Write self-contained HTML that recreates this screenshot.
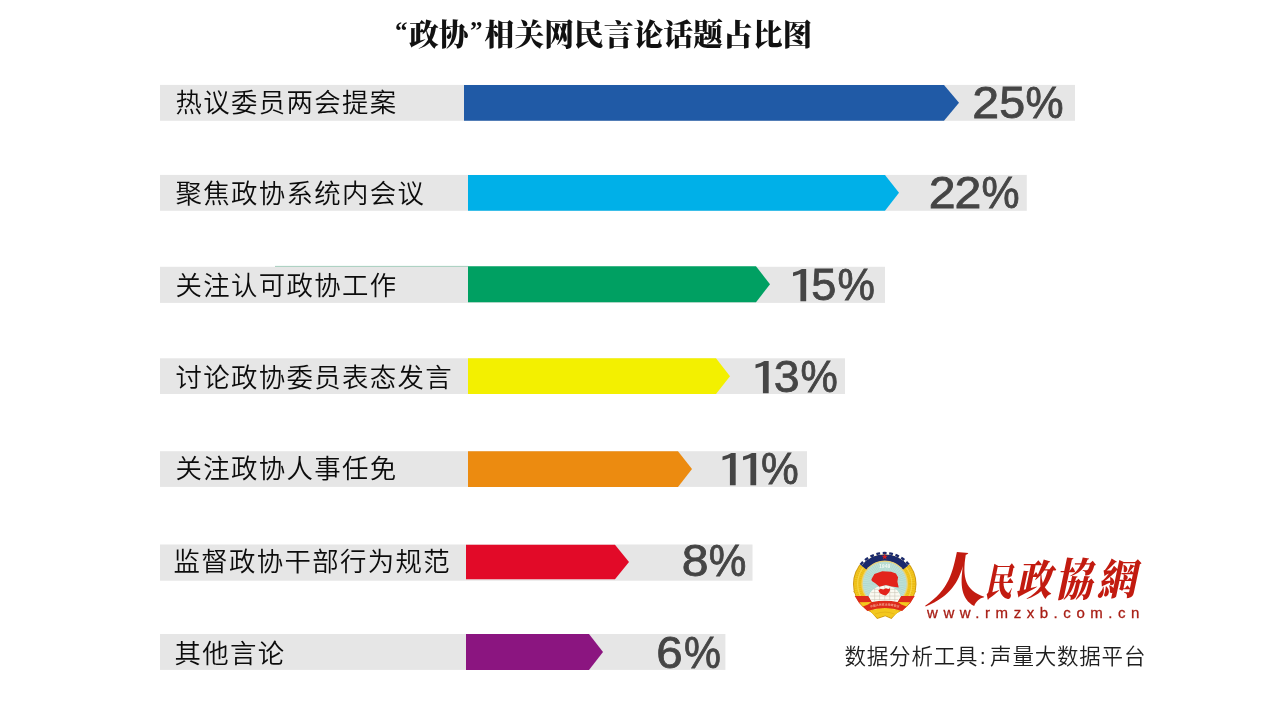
<!DOCTYPE html>
<html lang="zh-CN">
<head>
<meta charset="utf-8">
<title>“政协”相关网民言论话题占比图</title>
<style>
html,body{margin:0;padding:0;background:#fff;}
body{width:1270px;height:720px;overflow:hidden;position:relative;}
svg{position:absolute;left:0;top:0;display:block;}
.title{font-family:"Liberation Serif","Noto Serif CJK SC",serif;font-weight:900;font-size:29.8px;fill:#111;}
.lab{font-family:"Liberation Sans","Noto Sans CJK SC",sans-serif;font-weight:350;font-size:26.4px;letter-spacing:1.35px;fill:#0c0c0c;}
.pct{font-family:"Liberation Sans",sans-serif;font-size:44.2px;fill:#454545;stroke:#454545;stroke-width:0.8px;}
.url{font-family:"Liberation Sans",sans-serif;font-size:15px;fill:#A81E15;stroke:#A81E15;stroke-width:0.3px;letter-spacing:5.55px;}
.brand{font-family:"Liberation Serif","Noto Serif CJK TC",serif;font-weight:900;fill:#C21B10;}
.tool{font-family:"Liberation Sans","Noto Sans CJK SC",sans-serif;font-weight:350;font-size:21.5px;fill:#1e1e1e;letter-spacing:0.8px;}
</style>
</head>
<body>
<svg width="1270" height="720" viewBox="0 0 1270 720">
<rect x="0" y="0" width="1270" height="720" fill="#ffffff"/>
<text class="title" x="395" y="44.5"><tspan font-size="25" dy="-5.8" dx="0">“</tspan><tspan dy="5.8" dx="1.5">政协</tspan><tspan font-size="25" dy="-5.8" dx="1.5">”</tspan><tspan dy="5.8" dx="2">相关网民言论话题占比图</tspan></text>

<rect x="160" y="84.9" width="915" height="35.9" fill="#E6E6E6"/>
<polygon points="464,84.9 944,84.9 959,102.85 944,120.80 464,120.80" fill="#205AA6"/>
<text class="lab" x="175.5" y="112">热议委员两会提案</text>
<text class="pct" y="118.1"><tspan x="972.37" textLength="26.86" lengthAdjust="spacingAndGlyphs">2</tspan><tspan x="999.33" textLength="25.92" lengthAdjust="spacingAndGlyphs">5</tspan><tspan x="1025.47" textLength="38.05" lengthAdjust="spacingAndGlyphs">%</tspan></text>
<rect x="160" y="174.9" width="866.8" height="35.9" fill="#E6E6E6"/>
<polygon points="468,174.9 885,174.9 899,192.85 885,210.80 468,210.80" fill="#00B0E8"/>
<text class="lab" x="175.5" y="202.5">聚焦政协系统内会议</text>
<text class="pct" y="207.8"><tspan x="928.67" textLength="26.86" lengthAdjust="spacingAndGlyphs">2</tspan><tspan x="954.47" textLength="26.86" lengthAdjust="spacingAndGlyphs">2</tspan><tspan x="981.47" textLength="38.05" lengthAdjust="spacingAndGlyphs">%</tspan></text>
<rect x="160" y="266.8" width="725" height="36.1" fill="#E6E6E6"/>
<rect x="275" y="265.9" width="193" height="0.9" fill="#9CC9B6"/>
<polygon points="468,266.3 756,266.3 770,284.30 756,302.30 468,302.30" fill="#00A062"/>
<text class="lab" x="175.5" y="295">关注认可政协工作</text>
<text class="pct" y="300.4"><tspan x="784.78" dy="2.69" font-family="IPAGothic,Liberation Sans,sans-serif" font-size="45.0" stroke="none" textLength="35.10" lengthAdjust="spacingAndGlyphs">1</tspan><tspan x="811.29" dy="-2.69" textLength="25.10" lengthAdjust="spacingAndGlyphs">5</tspan><tspan x="837.40" textLength="37.40" lengthAdjust="spacingAndGlyphs">%</tspan></text>
<rect x="160" y="358.3" width="685" height="35.7" fill="#E6E6E6"/>
<polygon points="468,358.3 716,358.3 730,376.15 716,394.00 468,394.00" fill="#F3F000"/>
<text class="lab" x="175.5" y="386.5">讨论政协委员表态发言</text>
<text class="pct" y="392.2"><tspan x="747.28" dy="2.69" font-family="IPAGothic,Liberation Sans,sans-serif" font-size="45.0" stroke="none" textLength="35.10" lengthAdjust="spacingAndGlyphs">1</tspan><tspan x="773.83" dy="-2.69" textLength="25.81" lengthAdjust="spacingAndGlyphs">3</tspan><tspan x="800.51" textLength="37.29" lengthAdjust="spacingAndGlyphs">%</tspan></text>
<rect x="160" y="451.2" width="647" height="35.7" fill="#E6E6E6"/>
<polygon points="468,451.2 678,451.2 692,469.05 678,486.90 468,486.90" fill="#EC8B10"/>
<text class="lab" x="175.5" y="478.3">关注政协人事任免</text>
<text class="pct" y="484.4"><tspan x="714.18" dy="2.69" font-family="IPAGothic,Liberation Sans,sans-serif" font-size="45.0" stroke="none" textLength="35.10" lengthAdjust="spacingAndGlyphs">1</tspan><tspan x="734.68" font-family="IPAGothic,Liberation Sans,sans-serif" font-size="45.0" stroke="none" textLength="35.10" lengthAdjust="spacingAndGlyphs">1</tspan><tspan x="761.09" dy="-2.69" textLength="37.72" lengthAdjust="spacingAndGlyphs">%</tspan></text>
<rect x="160" y="544.5" width="592.5" height="36.2" fill="#E6E6E6"/>
<polygon points="466,544.8 615,544.8 629,562.05 615,579.30 466,579.30" fill="#E20A28"/>
<text class="lab" x="173.5" y="570.5">监督政协干部行为规范</text>
<text class="pct" y="576.3"><tspan x="681.71" textLength="26.79" lengthAdjust="spacingAndGlyphs">8</tspan><tspan x="708.69" textLength="37.62" lengthAdjust="spacingAndGlyphs">%</tspan></text>
<rect x="160" y="634.0" width="565.4" height="35.9" fill="#E6E6E6"/>
<polygon points="466,634.0 589,634.0 603,651.95 589,669.90 466,669.90" fill="#8B1580"/>
<text class="lab" x="174.5" y="662.7">其他言论</text>
<text class="pct" y="668.0"><tspan x="656.19" textLength="26.40" lengthAdjust="spacingAndGlyphs">6</tspan><tspan x="684.12" textLength="36.96" lengthAdjust="spacingAndGlyphs">%</tspan></text>
<g transform="translate(848 546) scale(0.10834)">
  <!-- silhouette -->
  <path d="M46,418 L269,673 L344,649 L401,673 L632,418 Z" fill="#CF9A12"/>
  <circle cx="339" cy="350" r="293" fill="#CF9A12"/>
  <path d="M56,420 L271,663 L344,640 L399,663 L622,420 Z" fill="#F3C81E"/>
  <circle cx="339" cy="350" r="284" fill="#F3C81E"/>
  <!-- wheat texture -->
  <circle cx="339" cy="350" r="250" fill="none" stroke="#E0A511" stroke-width="58" stroke-dasharray="7 12" opacity="0.5"/>
  <circle cx="339" cy="350" r="250" fill="none" stroke="#FBE36A" stroke-width="10" opacity="0.6"/>
  <!-- gear -->
  <path d="M147,200.2 A245,245 0 0 1 531,200.2" fill="none" stroke="#1B2A6C" stroke-width="64"/>
  <path d="M116,172.6 A285,285 0 0 1 562,172.6" fill="none" stroke="#ffffff" stroke-width="22"/>
  <path d="M116,172.6 A285,285 0 0 1 562,172.6" fill="none" stroke="#1B2A6C" stroke-width="22" stroke-dasharray="35.3 24"/>
  <!-- inner disc -->
  <circle cx="339" cy="348" r="215" fill="#E8D27C"/>
  <circle cx="339" cy="348" r="203" fill="#BDE0D7"/>
  <circle cx="339" cy="348" r="125" fill="none" stroke="#9FCFC5" stroke-width="150" stroke-dasharray="4 9" opacity="0.6"/>
  <!-- star -->
  <polygon points="339,70 346,90 368,90 350,103 357,124 339,111 321,124 328,103 310,90 332,90" fill="#D8201E"/>
  <!-- ribbons: red -->
  <path d="M62,462 L186,462 L222,512 Q344,490 456,512 L492,462 L616,462 L576,527 L500,600 Q344,545 178,600 L102,527 Z" fill="#DE2A1B"/>
  <!-- yellow stripes on ribbons -->
  <path d="M104,520 L216,517 L186,541 L138,558 Z" fill="#F3C81E"/>
  <path d="M574,520 L462,517 L492,541 L540,558 Z" fill="#F3C81E"/>
  <!-- bottom yellow tails -->
  <path d="M206,604 Q344,550 472,604 L399,663 L344,640 L271,663 Z" fill="#F3C81E"/>
  <path d="M250,628 Q344,592 428,628" fill="none" stroke="#DDA713" stroke-width="7" opacity="0.7"/>
  <!-- globe -->
  <path d="M193,468 C200,410 262,366 339,366 C416,366 478,410 485,468 L458,516 Q344,494 220,516 Z" fill="#FBFAF2"/>
  <g stroke="#BFB9A8" stroke-width="5" fill="none" opacity="0.85">
    <path d="M214,430 H464 M200,462 H478 M238,400 H440 M214,494 H464"/>
    <path d="M246,392 V508 M292,374 V502 M339,368 V498 M386,374 V502 M432,392 V508"/>
  </g>
  <!-- flag -->
  <path d="M216,306 L244,258 L316,233 L398,237 L442,254 L462,288 L456,330 L468,384 L402,373 L350,361 L290,377 L252,343 L220,322 Z" fill="#E3231B"/>
  <!-- map -->
  <path d="M280,410 L300,394 L326,402 L350,391 L372,398 L388,390 L386,416 L372,436 L350,456 L322,450 L298,438 Z" fill="#E3231B"/>
  <!-- banner text -->
  <path id="bnr" d="M196,575 Q344,522 482,575" fill="none"/>
  <text font-family="Liberation Sans, Noto Sans CJK SC, sans-serif" font-size="26" font-weight="700" fill="#F2A893" letter-spacing="1"><textPath href="#bnr" startOffset="50%" text-anchor="middle">中国人民政治协商会议</textPath></text>
  <text x="341" y="204" text-anchor="middle" font-family="Liberation Sans, sans-serif" font-weight="700" font-size="42" fill="#F7FBF6" letter-spacing="3">1949</text>
</g>
<text class="brand" transform="translate(0 596) skewX(-12)"><tspan x="925.52" y="5.00" font-size="58.3" textLength="60.05" lengthAdjust="spacingAndGlyphs">人</tspan><tspan x="984.30" y="-0.50" font-size="38.8" textLength="27.55" lengthAdjust="spacingAndGlyphs">民</tspan><tspan x="1015.86" y="-0.70" font-size="41.6" textLength="35.36" lengthAdjust="spacingAndGlyphs">政</tspan><tspan x="1054.53" y="0.00" font-size="45.0" textLength="37.35" lengthAdjust="spacingAndGlyphs">協</tspan><tspan x="1096.84" y="-0.70" font-size="43.0" textLength="38.70" lengthAdjust="spacingAndGlyphs">網</tspan></text>

<text class="url" x="927" y="617.8">www.rmzxb.com.cn</text>
<text class="tool" x="844.5" y="664">数据分析工具<tspan dx="1.5">:</tspan><tspan dx="3.5">声量大数据平台</tspan></text>
</svg>
</body>
</html>
